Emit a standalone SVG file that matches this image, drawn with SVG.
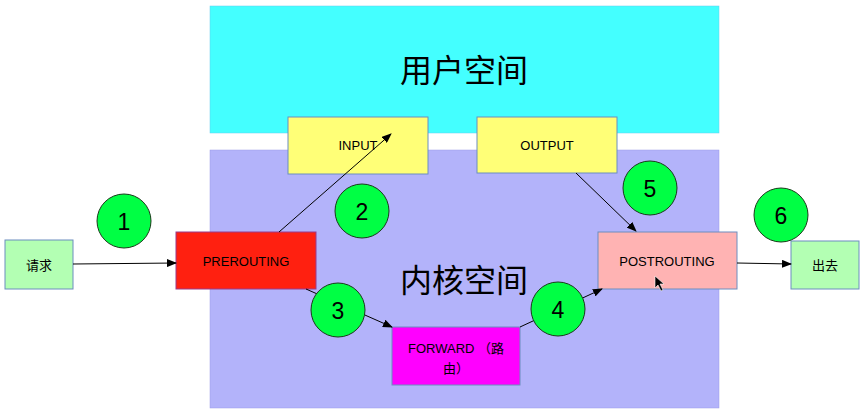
<svg xmlns="http://www.w3.org/2000/svg" width="866" height="414" viewBox="0 0 866 414">
<style>
.box{stroke:#6c8ebf;stroke-width:1}
.lbl{font-family:"Liberation Sans","Noto Sans CJK SC",sans-serif;font-size:13px;fill:#000;text-anchor:middle;dominant-baseline:central}
.big{font-family:"Noto Sans CJK SC",sans-serif;font-size:32px;fill:#000;text-anchor:middle}
.num{font-family:"Liberation Sans",sans-serif;font-size:23px;fill:#000;text-anchor:middle;dominant-baseline:central}
.circ{fill:#00ff44;stroke:#1a3a1a;stroke-width:1}
.conn{stroke:#000;stroke-width:1;fill:none;marker-end:url(#arr)}
</style>
<defs>
<marker id="arr" markerWidth="10" markerHeight="8" refX="9" refY="4" orient="auto" markerUnits="userSpaceOnUse">
<path d="M0,0 L10,4 L0,8 Z" fill="#000"/>
</marker>
</defs>
<rect width="866" height="414" fill="#fff"/>
<g id="user-space">
<rect x="210" y="6" width="509" height="127" fill="#44ffff" stroke="#66ccee" stroke-width="0.5"/>
<text class="big" x="464" y="82">用户空间</text>
</g>
<g id="kernel-space">
<rect x="210" y="150" width="509" height="258" fill="#b3b3fa" stroke="#9a9ae8" stroke-width="0.5"/>
<text class="big" x="464" y="292">内核空间</text>
</g>
<g id="input">
<rect class="box" x="288" y="117" width="140" height="57" fill="#ffff77"/>
<text class="lbl" x="358" y="145">INPUT</text>
</g>
<g id="output">
<rect class="box" x="477" y="117" width="140" height="56" fill="#ffff77"/>
<text class="lbl" x="547" y="145">OUTPUT</text>
</g>
<g id="prerouting">
<rect x="176" y="232" width="140" height="57" fill="#ff2010" stroke="#9a3a8a" stroke-width="1"/>
<text class="lbl" x="246" y="261">PREROUTING</text>
</g>
<g id="forward">
<rect class="box" x="392" y="327" width="128" height="58" fill="#ff00ff"/>
<text class="lbl" x="456" y="348">FORWARD （路</text>
<text class="lbl" x="456" y="368">由）</text>
</g>
<g id="postrouting">
<rect class="box" x="598" y="232" width="139" height="57" fill="#ffb3b3"/>
<text class="lbl" x="667" y="261">POSTROUTING</text>
</g>
<g id="request">
<rect class="box" x="5" y="240" width="68" height="49" fill="#b3ffb3"/>
<text class="lbl" x="39" y="265">请求</text>
</g>
<g id="out">
<rect class="box" x="791" y="241" width="68" height="48" fill="#b3ffb3"/>
<text class="lbl" x="825" y="265">出去</text>
</g>
<g id="connectors">
<line class="conn" x1="73" y1="264" x2="176" y2="263"/>
<line class="conn" x1="279" y1="232" x2="391" y2="134"/>
<line class="conn" x1="306" y1="289" x2="392" y2="327"/>
<line class="conn" x1="520" y1="327" x2="602" y2="289"/>
<line class="conn" x1="576" y1="173" x2="636" y2="231"/>
<line class="conn" x1="737" y1="263" x2="791" y2="264"/>
</g>
<g id="step1"><circle class="circ" cx="124" cy="221" r="27"/><text class="num" x="124" y="222">1</text></g>
<g id="step2"><circle class="circ" cx="362" cy="211" r="27"/><text class="num" x="362" y="212">2</text></g>
<g id="step3"><circle class="circ" cx="338" cy="310" r="27"/><text class="num" x="338" y="311">3</text></g>
<g id="step4"><circle class="circ" cx="558" cy="309" r="27"/><text class="num" x="558" y="310">4</text></g>
<g id="step5"><circle class="circ" cx="650" cy="188" r="27"/><text class="num" x="650" y="189">5</text></g>
<g id="step6"><circle class="circ" cx="781" cy="215" r="27"/><text class="num" x="781" y="216">6</text></g>
<path d="M655,276 L655,288 L658,285 L661,291 L663,290 L660,284 L664,284 Z" fill="#000" stroke="#fff" stroke-width="0.6"/>
</svg>
